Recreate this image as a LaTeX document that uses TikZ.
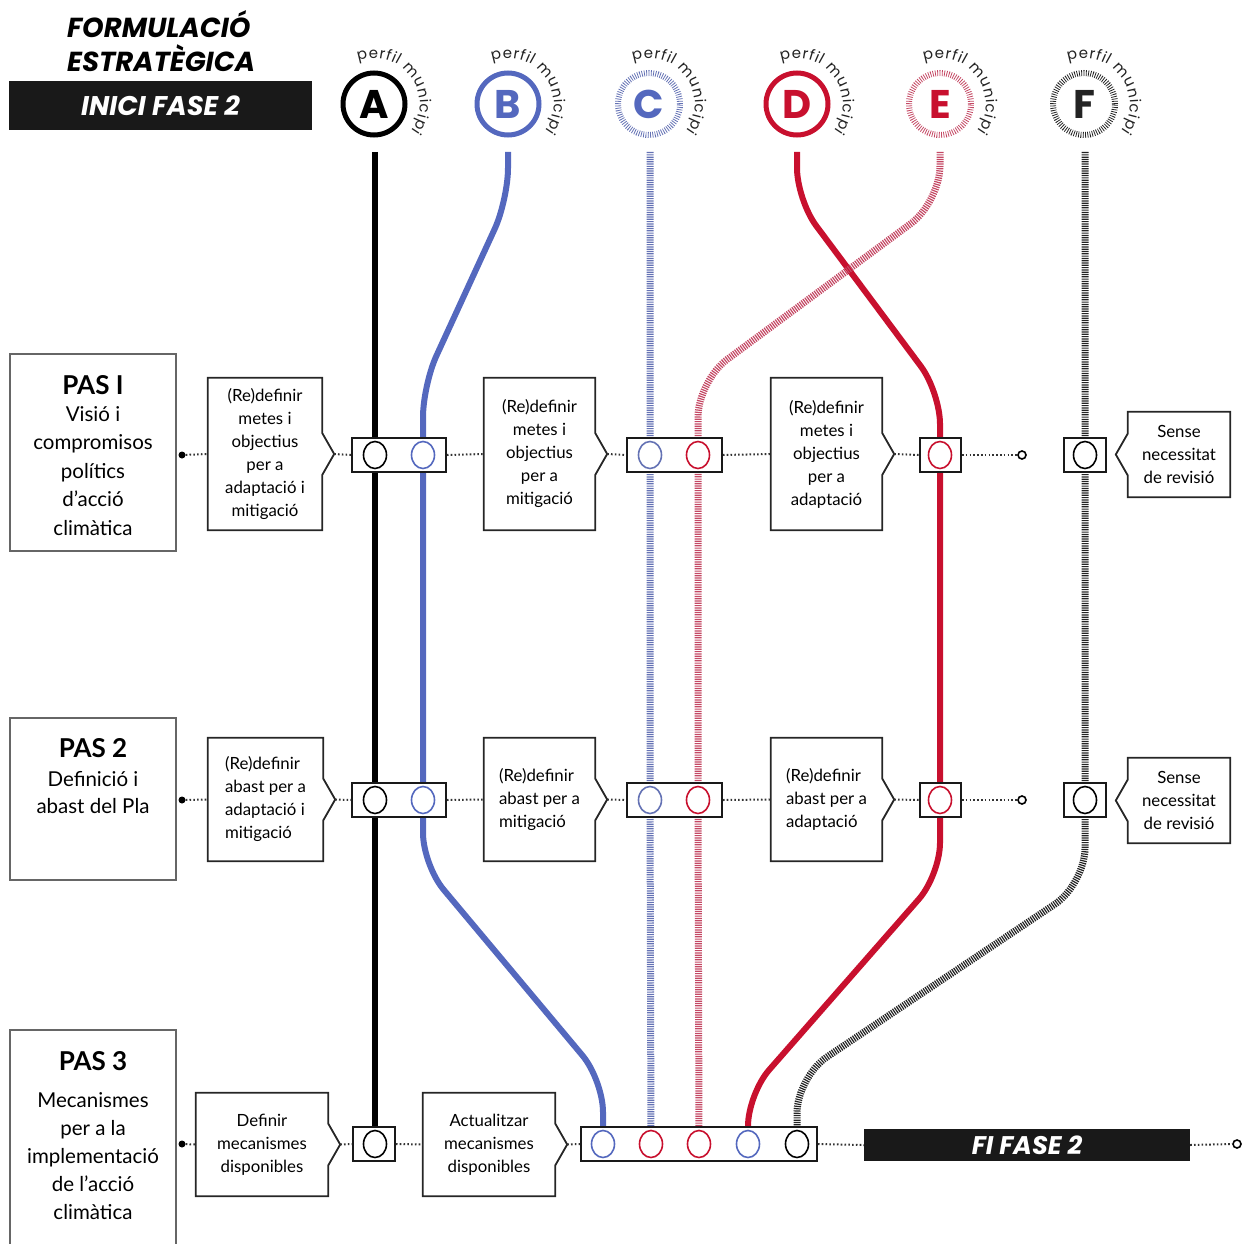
\documentclass[tikz,border=0pt]{standalone}
\usepackage{fontspec}
\setmainfont{Lato}
\newfontfamily\headfont{Poppins}
\usetikzlibrary{decorations.text,shapes.geometric,calc}
\definecolor{cblue}{RGB}{84,104,190}
\definecolor{cred}{RGB}{200,16,46}
\definecolor{clblue}{RGB}{100,114,180}
\definecolor{cpink}{RGB}{196,72,100}
\definecolor{cdark}{RGB}{35,35,35}
\pgfdeclarelayer{bg}
\pgfsetlayers{bg,main}
\tikzset{
  frame/.style={draw=black!85, line width=1.8pt},
  pasframe/.style={draw=black!60, line width=2.2pt},
  stepnode/.style={fill=white, inner sep=0pt, font=\fontsize{16.8}{23}\selectfont},
  stationbox/.style={draw=black!90, line width=1.8pt, fill=white, inner sep=0pt, minimum height=34pt},
  stc/.style={ellipse, draw=#1, line width=1.6pt, minimum width=23pt, minimum height=27pt, inner sep=0pt},
  dotcon/.style={line width=2pt, black!80, dash pattern=on 1.6pt off 2.2pt},
  solidline/.style={line width=6pt, #1},
  tickline/.style={line width=7pt, #1, dash pattern=on 1.2pt off 1.1pt},
  topring/.style={circle, draw=#1, line width=5pt, minimum size=62pt, inner sep=0pt, text=#1, font=\headfont\bfseries\fontsize{40}{40}\selectfont},
  tickring/.style={circle, draw=#1, line width=6pt, dash pattern=on 0.8pt off 1.5pt, minimum size=62pt, inner sep=0pt, font=\headfont\bfseries\fontsize{40}{40}\selectfont},
  enddot/.style={circle, fill=black, inner sep=0pt, minimum size=7pt},
  endring/.style={circle, draw=black, line width=1.6pt, fill=white, inner sep=0pt, minimum size=8pt},
  blackbar/.style={fill=black!90, text=white, inner sep=0pt},
}
\newcommand\rchev[1]{%
  \draw[frame] (#1.north west) -- (#1.north east) -- ([yshift=21pt]#1.east) -- ([xshift=12pt]#1.east) -- ([yshift=-21pt]#1.east) -- (#1.south east) -- (#1.south west) -- cycle;
  \coordinate (#1-tip) at ([xshift=12pt]#1.east);}
\newcommand\lchev[1]{%
  \draw[frame] (#1.north east) -- (#1.north west) -- ([yshift=21pt]#1.west) -- ([xshift=-12pt]#1.west) -- ([yshift=-21pt]#1.west) -- (#1.south west) -- (#1.south east) -- cycle;
  \coordinate (#1-tip) at ([xshift=-12pt]#1.west);}
\newcommand\perfilarc[1]{%
  \path[decorate, decoration={text along path, text={|\headfont\fontsize{15}{15}\selectfont\color{cdark}|perfil municipi}, text align=fit to path}]
   ([shift={(110:46pt)}]#1.center) arc[start angle=110, end angle=-36, radius=46pt];}

\begin{document}
\begin{tikzpicture}[x=1pt,y=-1pt]
\useasboundingbox (0,0) rectangle (1248,1244);

% ---------- header
\node[anchor=west, inner sep=0pt, font=\headfont\bfseries\itshape\fontsize{27.5}{27.5}\selectfont] (h1) at (67,24) {FORMULACIÓ};
\node[anchor=west, inner sep=0pt, font=\headfont\bfseries\itshape\fontsize{27.5}{27.5}\selectfont] (h2) at (67,58) {ESTRATÈGICA};
\node[blackbar, minimum width=303pt, minimum height=49pt, font=\headfont\bfseries\itshape\fontsize{27}{27}\selectfont] (inici) at (160.5,105.5) {INICI FASE 2};

% ---------- top profile rings
\node[topring=black] (cA) at (374,104) {A};
\node[topring=cblue] (cB) at (508,104) {B};
\node[tickring=clblue, text=cblue] (cC) at (649,104) {C};
\node[topring=cred] (cD) at (797,104) {D};
\node[tickring=cpink, text=cred] (cE) at (940,104) {E};
\node[tickring=cdark, text=cdark] (cF) at (1084,104) {F};
\perfilarc{cA}\perfilarc{cB}\perfilarc{cC}\perfilarc{cD}\perfilarc{cE}\perfilarc{cF}

% ---------- PAS boxes
\node[pasframe, minimum width=166pt, minimum height=197pt] (pas1) at (93,452.5) {};
\node[inner sep=0pt, font=\fontsize{26}{28}\selectfont\bfseries] (pas1t) at (93,385) {PAS I};
\node[inner sep=0pt, align=center, font=\fontsize{20.5}{28.5}\selectfont] (pas1b) at (93,471) {Visió i\\compromisos\\polítics\\d’acció\\climàtica};

\node[pasframe, minimum width=166pt, minimum height=162pt] (pas2) at (93,799) {};
\node[inner sep=0pt, font=\fontsize{26}{28}\selectfont\bfseries] (pas2t) at (93,748) {PAS 2};
\node[inner sep=0pt, align=center, font=\fontsize{20.5}{27}\selectfont] (pas2b) at (93,792.5) {Definició i\\abast del Pla};

\coordinate (pas3) at (93,1030);
\draw[pasframe] (10,1250) -- (10,1030) -- (176,1030) -- (176,1250);
\node[inner sep=0pt, font=\fontsize{26}{28}\selectfont\bfseries] (pas3t) at (93,1061) {PAS 3};
\node[inner sep=0pt, align=center, font=\fontsize{20.5}{28}\selectfont] (pas3b) at (93,1156) {Mecanismes\\per a la\\implementació\\de l’acció\\climàtica};

% ---------- row 1
\node[stepnode, minimum width=114pt, minimum height=152pt, align=center] (s1a) at (265,454) {(Re)definir\\metes i\\objectius\\per a\\adaptació i\\mitigació};
\rchev{s1a}
\node[stepnode, minimum width=111pt, minimum height=152pt, align=center] (s1b) at (539.5,454) {(Re)definir\\metes i\\objectius\\per a\\mitigació};
\rchev{s1b}
\node[stepnode, minimum width=111pt, minimum height=152pt, align=center] (s1c) at (826.5,454) {(Re)definir\\metes i\\objectius\\per a\\adaptació};
\rchev{s1c}
\node[stepnode, minimum width=102pt, minimum height=85pt, align=center] (n1) at (1179,454.5) {Sense\\necessitat\\de revisió};
\lchev{n1}

\node[stationbox, minimum width=94pt] (st1a) at (399,455) {};
\node[stc=black] (r1a1) at (375,455) {};
\node[stc=cblue] (r1a2) at (423,455) {};
\node[stationbox, minimum width=95pt] (st1b) at (674.5,455) {};
\node[stc=clblue] (r1b1) at (650,455) {};
\node[stc=cred] (r1b2) at (698,455) {};
\node[stationbox, minimum width=41pt] (st1c) at (940.5,455) {};
\node[stc=cred] (r1c1) at (940,455) {};
\node[stationbox, minimum width=42pt] (st1d) at (1085,455) {};
\node[stc=black] (r1d1) at (1085,455) {};

\node[enddot] (d1) at (182,455) {};
\node[endring] (e1) at (1022,455) {};
\draw[dotcon] (d1) -- (s1a.west);
\draw[dotcon] (s1a-tip) -- (st1a.west);
\draw[dotcon] (st1a.east) -- (s1b.west);
\draw[dotcon] (s1b-tip) -- (st1b.west);
\draw[dotcon] (st1b.east) -- (s1c.west);
\draw[dotcon] (s1c-tip) -- (st1c.west);
\draw[dotcon] (st1c.east) -- (e1.west);

% ---------- row 2
\node[stepnode, minimum width=115pt, minimum height=123pt, align=left] (s2a) at (265.5,799.5) {(Re)definir\\abast per a\\adaptació i\\mitigació};
\rchev{s2a}
\node[stepnode, minimum width=111pt, minimum height=123pt, align=left] (s2b) at (539.5,799.5) {(Re)definir\\abast per a\\mitigació};
\rchev{s2b}
\node[stepnode, minimum width=111pt, minimum height=123pt, align=left] (s2c) at (826.5,799.5) {(Re)definir\\abast per a\\adaptació};
\rchev{s2c}
\node[stepnode, minimum width=102pt, minimum height=85pt, align=center] (n2) at (1179,800.5) {Sense\\necessitat\\de revisió};
\lchev{n2}

\node[stationbox, minimum width=94pt] (st2a) at (399,800) {};
\node[stc=black] (r2a1) at (375,800) {};
\node[stc=cblue] (r2a2) at (423,800) {};
\node[stationbox, minimum width=95pt] (st2b) at (674.5,800) {};
\node[stc=clblue] (r2b1) at (650,800) {};
\node[stc=cred] (r2b2) at (698,800) {};
\node[stationbox, minimum width=41pt] (st2c) at (940.5,800) {};
\node[stc=cred] (r2c1) at (940,800) {};
\node[stationbox, minimum width=42pt] (st2d) at (1085,800) {};
\node[stc=black] (r2d1) at (1085,800) {};

\node[enddot] (d2) at (182,800) {};
\node[endring] (e2) at (1022,800) {};
\draw[dotcon] (d2) -- (s2a.west);
\draw[dotcon] (s2a-tip) -- (st2a.west);
\draw[dotcon] (st2a.east) -- (s2b.west);
\draw[dotcon] (s2b-tip) -- (st2b.west);
\draw[dotcon] (st2b.east) -- (s2c.west);
\draw[dotcon] (s2c-tip) -- (st2c.west);
\draw[dotcon] (st2c.east) -- (e2.west);

% ---------- row 3
\node[stepnode, minimum width=132pt, minimum height=103pt, align=center] (s3a) at (262,1144.5) {Definir\\mecanismes\\disponibles};
\rchev{s3a}
\node[stepnode, minimum width=132pt, minimum height=103pt, align=center] (s3b) at (489,1144.5) {Actualitzar\\mecanismes\\disponibles};
\rchev{s3b}

\node[stationbox, minimum width=42pt] (st3a) at (374,1144) {};
\node[stc=black] (r3a1) at (375,1144) {};
\node[stationbox, minimum width=236pt] (st3b) at (699,1144) {};
\node[stc=cblue] (r3b1) at (603,1144) {};
\node[stc=cred] (r3b2) at (651,1144) {};
\node[stc=cred] (r3b3) at (699,1144) {};
\node[stc=cblue] (r3b4) at (748,1144) {};
\node[stc=black] (r3b5) at (797,1144) {};

\node[blackbar, minimum width=326pt, minimum height=32pt, font=\headfont\bfseries\itshape\fontsize{25.5}{25.5}\selectfont] (fi) at (1027,1145) {FI FASE 2};
\node[enddot] (d3) at (182,1144) {};
\node[endring] (e3) at (1237,1144) {};
\draw[dotcon] (d3) -- (s3a.west);
\draw[dotcon] (s3a-tip) -- (st3a.west);
\draw[dotcon] (st3a.east) -- (s3b.west);
\draw[dotcon] (s3b-tip) -- (st3b.west);
\draw[dotcon] (st3b.east) -- (fi.west);
\draw[dotcon] (fi.east) -- (e3.west);

% ---------- profile lines
\coordinate (tA) at (375,152);
\coordinate (tB) at (508,152);
\coordinate (tC) at (650,152);
\coordinate (tD) at (797,152);
\coordinate (tE) at (940,152);
\coordinate (tF) at (1085,152);
\coordinate (kB1) at (508,200);
\coordinate (kB2) at (423,385);
\coordinate (kB3) at (423,865);
\coordinate (kB4) at (603,1080);
\coordinate (kD1) at (797,200);
\coordinate (kD2) at (940,392);
\coordinate (kD3) at (940,875);
\coordinate (kD4) at (748,1094);
\coordinate (kE1) at (940,202);
\coordinate (kE2) at (698,381);
\coordinate (kF1) at (1085,884);
\coordinate (kF2) at (797,1077);

\begin{pgfonlayer}{bg}
\draw[solidline=black, line width=6.5pt] (tA) -- (r1a1.center) -- (r2a1.center) -- (r3a1.center);
\draw[solidline=cblue, rounded corners=32pt] (tB) -- (kB1) -- (kB2) -- (r1a2.center) -- (r2a2.center) -- (kB3) -- (kB4) -- (r3b1.center);
\draw[tickline=clblue] (tC) -- (r1b1.center) -- (r2b1.center) -- (r3b2.center);
\draw[solidline=cred, rounded corners=32pt] (tD) -- (kD1) -- (kD2) -- (r1c1.center) -- (r2c1.center) -- (kD3) -- (kD4) -- (r3b4.center);
\draw[tickline=cpink, rounded corners=36pt] (tE) -- (kE1) -- (kE2) -- (r1b2.center) -- (r2b2.center) -- (r3b3.center);
\draw[tickline=cdark, rounded corners=36pt] (tF) -- (r1d1.center) -- (r2d1.center) -- (kF1) -- (kF2) -- (r3b5.center);
\end{pgfonlayer}
\end{tikzpicture}
\end{document}
